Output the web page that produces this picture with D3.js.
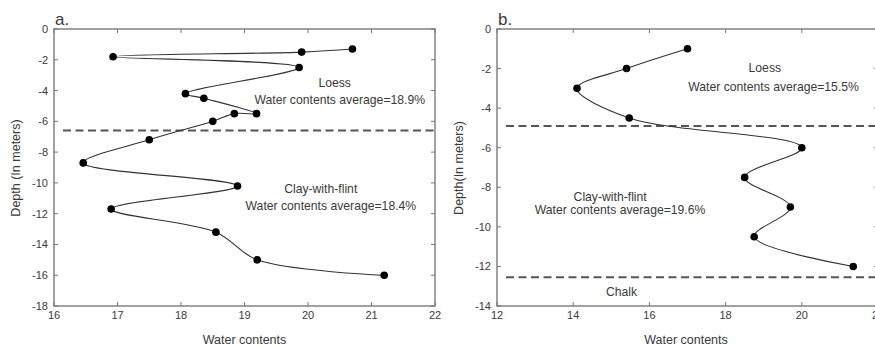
<!DOCTYPE html>
<html>
<head>
<meta charset="utf-8">
<script src="https://cdn.jsdelivr.net/npm/d3@7"></script>
<style>
  html, body { margin: 0; padding: 0; background: #fff; }
  svg { display: block; }
  text { font-family: "Liberation Sans", Arial, sans-serif; fill: #3a3a3a; }
</style>
</head>
<body>
<svg id="chart" width="875" height="348"></svg>
<script>
// Profile a: water content (%) against depth (m), in sampling order
const waterA = [20.7, 19.9, 16.93, 19.86, 18.07, 18.36, 19.19, 18.84, 18.5, 17.5, 16.46, 18.89, 16.9, 18.55, 19.2, 21.2];
const depthA = [-1.3, -1.5, -1.8, -2.5, -4.2, -4.5, -5.5, -5.5, -6.0, -7.2, -8.7, -10.2, -11.7, -13.2, -15.0, -16.0];
// Profile b
const waterB = [17.0, 15.4, 14.1, 15.47, 20.0, 18.5, 19.7, 18.75, 21.35];
const depthB = [-1.0, -2.0, -3.0, -4.5, -6.0, -7.5, -9.0, -10.5, -12.0];

// Layer boundaries (m)
const boundariesA = [-6.6];
const boundariesB = [-4.9, -12.55];

// Axis ticks
const xTicksA = [16, 17, 18, 19, 20, 21, 22];
const yTicksA = [0, -2, -4, -6, -8, -10, -12, -14, -16, -18];
const xTicksB = [12, 14, 16, 18, 20, 22];
const yTicksB = [0, -2, -4, -6, -8, -10, -12, -14];

// Layer annotations (anchored at text centre / baseline, in data units)
const layerLabelsA = [
  { text: "Loess", x: 20.42, y: -3.77 },
  { text: "Water contents average=18.9%", x: 20.5, y: -4.9 },
  { text: "Clay-with-flint", x: 20.2, y: -10.65 },
  { text: "Water contents average=18.4%", x: 20.36, y: -11.75 }
];
const layerLabelsB = [
  { text: "Loess", x: 19.03, y: -2.17 },
  { text: "Water contents average=15.5%", x: 19.26, y: -3.13 },
  { text: "Clay-with-flint", x: 14.97, y: -8.69 },
  { text: "Water contents average=19.6%", x: 15.23, y: -9.34 },
  { text: "Chalk", x: 15.27, y: -13.48 }
];

const svg = d3.select("#chart");

function panel(cfg) {
  const x = d3.scaleLinear().domain(cfg.xDomain).range(cfg.xRange);
  const y = d3.scaleLinear().domain(cfg.yDomain).range(cfg.yRange);
  const g = svg.append("g");
  const [x0, x1] = cfg.xRange, [y0, y1] = cfg.yRange;

  // layer boundaries
  g.selectAll("line.boundary").data(cfg.boundaries).join("line")
    .attr("class", "boundary")
    .attr("x1", x0 + 9).attr("x2", x1)
    .attr("y1", d => y(d)).attr("y2", d => y(d))
    .attr("stroke", "#555").attr("stroke-width", 2)
    .attr("stroke-dasharray", "8,4.5");

  // frame
  g.append("rect")
    .attr("x", x0).attr("y", y0).attr("width", x1 - x0).attr("height", y1 - y0)
    .attr("fill", "none").attr("stroke", "#8a8a8a").attr("stroke-width", 1.6);

  const tl = 4;
  // inward ticks on all four sides
  g.selectAll("line.xb").data(cfg.xTicks).join("line")
    .attr("x1", d => x(d)).attr("x2", d => x(d)).attr("y1", y1).attr("y2", y1 - tl)
    .attr("stroke", "#777");
  g.selectAll("line.xt").data(cfg.xTicks).join("line")
    .attr("x1", d => x(d)).attr("x2", d => x(d)).attr("y1", y0).attr("y2", y0 + tl)
    .attr("stroke", "#777");
  g.selectAll("line.yl").data(cfg.yTicks).join("line")
    .attr("y1", d => y(d)).attr("y2", d => y(d)).attr("x1", x0).attr("x2", x0 + tl)
    .attr("stroke", "#777");
  g.selectAll("line.yr").data(cfg.yTicks).join("line")
    .attr("y1", d => y(d)).attr("y2", d => y(d)).attr("x1", x1).attr("x2", x1 - tl)
    .attr("stroke", "#777");

  // tick labels
  g.selectAll("text.xl").data(cfg.xTicks).join("text")
    .attr("x", d => x(d)).attr("y", y1 + 13)
    .attr("text-anchor", "middle").attr("font-size", 11)
    .text(d => d);
  g.selectAll("text.yl").data(cfg.yTicks).join("text")
    .attr("x", x0 - 6).attr("y", d => y(d) + 4)
    .attr("text-anchor", "end").attr("font-size", 11)
    .text(d => d);

  // axis titles
  g.append("text")
    .attr("x", (x0 + Math.min(x1, 875)) / 2).attr("y", 344)
    .attr("text-anchor", "middle").attr("font-size", 12.5)
    .text("Water contents");
  g.append("text")
    .attr("transform", `translate(${cfg.yTitleX},168) rotate(-90)`)
    .attr("text-anchor", "middle").attr("font-size", 12.5)
    .text(cfg.yTitle);

  // panel letter
  g.append("text")
    .attr("x", x0 + 1).attr("y", 25)
    .attr("font-size", 17)
    .text(cfg.letter);

  // smoothed profile
  const pts = cfg.water.map((w, i) => [w, cfg.depth[i]]);
  const line = d3.line()
    .x(d => x(d[0])).y(d => y(d[1]))
    .curve(d3.curveCatmullRom.alpha(0.5));
  g.append("path").datum(pts)
    .attr("d", line)
    .attr("fill", "none").attr("stroke", "#333").attr("stroke-width", 1.1);

  g.selectAll("circle").data(pts).join("circle")
    .attr("cx", d => x(d[0])).attr("cy", d => y(d[1])).attr("r", 3.8)
    .attr("fill", "#000");

  // layer annotations
  g.selectAll("text.layer").data(cfg.labels).join("text")
    .attr("class", "layer")
    .attr("x", d => x(d.x)).attr("y", d => y(d.y))
    .attr("text-anchor", "middle").attr("font-size", 12.2)
    .text(d => d.text);
}

panel({
  xDomain: [16, 22], xRange: [54, 435],
  yDomain: [0, -18], yRange: [29, 306],
  xTicks: xTicksA, yTicks: yTicksA,
  water: waterA, depth: depthA, boundaries: boundariesA,
  labels: layerLabelsA, letter: "a.",
  yTitle: "Depth (In meters)", yTitleX: 20
});

panel({
  xDomain: [12, 22], xRange: [497, 878],
  yDomain: [0, -14], yRange: [29, 306],
  xTicks: xTicksB, yTicks: yTicksB,
  water: waterB, depth: depthB, boundaries: boundariesB,
  labels: layerLabelsB, letter: "b.",
  yTitle: "Depth(In meters)", yTitleX: 463
});
</script>
</body>
</html>
